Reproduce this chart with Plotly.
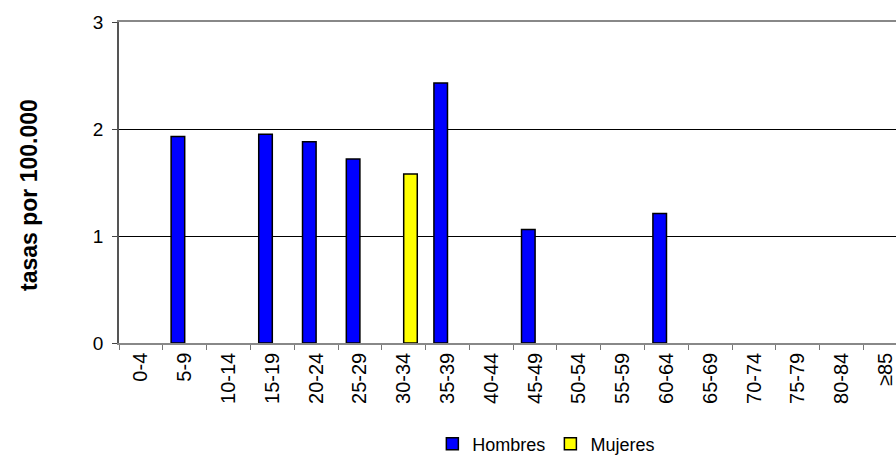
import plotly.graph_objects as go

# age groups and rates per 100,000 (None = no cases)
GRUPOS = ["0-4", "5-9", "10-14", "15-19", "20-24", "25-29", "30-34", "35-39",
          "40-44", "45-49", "50-54", "55-59", "60-64", "65-69", "70-74",
          "75-79", "80-84", "≥85"]
HOMBRES = [None, 1.93, None, 1.95, 1.88, 1.72, None, 2.43, None, 1.06,
           None, None, 1.21, None, None, None, None, None]
MUJERES = [None, None, None, None, None, None, 1.58, None, None, None,
           None, None, None, None, None, None, None, None]

FONT = "Liberation Sans, Arial, sans-serif"

fig = go.Figure()
fig.add_trace(go.Bar(
    x=GRUPOS, y=HOMBRES, name="Hombres",
    marker=dict(color="#0000FF", line=dict(color="black", width=1.5)),
))
fig.add_trace(go.Bar(
    x=GRUPOS, y=MUJERES, name="Mujeres",
    marker=dict(color="#FFFF00", line=dict(color="black", width=1.5)),
))

fig.update_layout(
    width=896,
    height=457,
    barmode="group",
    bargap=0.38,
    bargroupgap=0,
    plot_bgcolor="white",
    paper_bgcolor="white",
    margin=dict(l=119, r=0, t=22, b=114, autoexpand=False),
    font=dict(family=FONT, color="black"),
    legend=dict(
        orientation="h",
        x=0.55, xanchor="center",
        y=-0.315, yanchor="middle",
        font=dict(size=18),
        itemwidth=30,
        traceorder="normal",
    ),
)

# y title sits a little below the plot's middle in the original
fig.add_annotation(
    text="<b>tasas por 100.000</b>",
    xref="paper", yref="paper",
    x=-0.115, y=0.46,
    xanchor="center", yanchor="middle",
    textangle=-90,
    showarrow=False,
    font=dict(size=23),
)

fig.update_xaxes(
    type="category",
    range=[-0.5, 17.24],
    tickangle=-90,
    tickfont=dict(size=20),
    ticks="outside",
    tickson="boundaries",
    ticklen=5,
    tickcolor="#777",
    showline=True,
    linecolor="#888",
    linewidth=1.5,
    mirror=True,
    showgrid=False,
    automargin=False,
)
fig.update_yaxes(
    range=[0, 3],
    tickvals=[0, 1, 2, 3],
    tickfont=dict(size=19),
    ticks="outside",
    ticklen=5,
    tickcolor="#444",
    ticklabelstandoff=5,
    showline=True,
    linecolor="#555",
    linewidth=1.5,
    showgrid=True,
    gridcolor="black",
    gridwidth=1,
    zeroline=False,
    automargin=False,
)

# plotly's page keeps the browser's 8px body margin; drop it
fig.write_html(
    "out.html",
    config={"displayModeBar": False},
    post_script="document.body.style.margin='0';",
)
